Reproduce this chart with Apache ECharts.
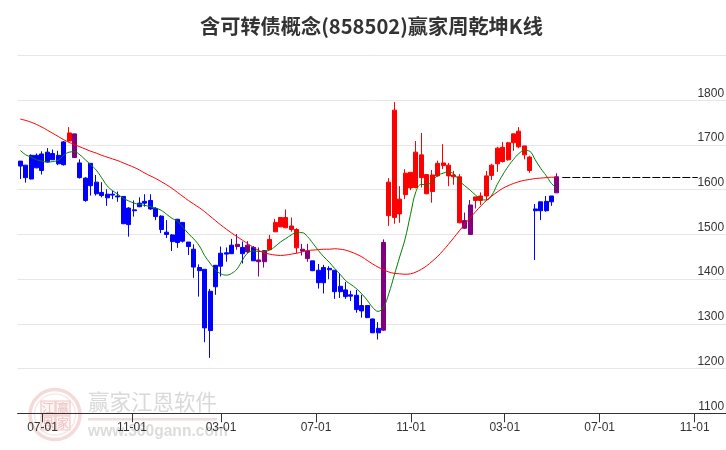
<!DOCTYPE html>
<html><head><meta charset="utf-8">
<style>html,body{margin:0;padding:0;background:#fff}#c{width:726px;height:450px}</style>
<script src="https://cdn.jsdelivr.net/npm/echarts@6/dist/echarts.min.js"></script>
</head><body><div id="c"></div>
<script>
const titleText='含可转债概念(858502)赢家周乾坤K线';
const tickPositions=[4.09,20.61,37.03,54.56,72.09,89.38,106.9,124.43];
const tickLabels=['07-01','11-01','03-01','07-01','11-01','03-01','07-01','11-01'];
const kinds='bbbbbbbbbrpbbbbbbbbbbbbbbbbbbbbbbbbbbbbbpbpbpprrrrrrppbbbbbbbbbbbbbprrrrrrrrrrrrrrpprrrrrrrrrrrbbbbp'.split('');
const bodyHighs=[1664,1655,1677,1677,1680,1684,1681,1677,1707,1727,1725,1660,1626,1659,1617,1594,1590,1590,1586,1585,1559,1555,1570,1574,1576,1558,1541,1505,1499,1534,1527,1483,1467,1426,1422,1373,1431,1458,1459,1476,1478,1471,1476,1471,1443,1464,1489,1527,1538,1538,1519,1511,1467,1463,1441,1420,1426,1424,1420,1384,1376,1365,1364,1341,1341,1311,1290,1482,1617,1778,1579,1637,1639,1684,1678,1634,1633,1659,1660,1655,1633,1629,1531,1566,1584,1586,1631,1655,1693,1695,1705,1725,1731,1698,1673,1557,1573,1574,1586,1629];
const bodyLows=[1653,1627,1624,1649,1643,1662,1667,1658,1656,1709,1672,1627,1576,1609,1591,1587,1582,1588,1584,1524,1522,1553,1562,1570,1557,1540,1511,1500,1484,1482,1485,1473,1427,1419,1291,1285,1383,1429,1456,1457,1473,1457,1461,1441,1439,1439,1466,1506,1517,1515,1511,1470,1463,1446,1419,1392,1392,1421,1372,1372,1361,1362,1332,1329,1314,1280,1280,1286,1542,1538,1546,1589,1604,1605,1627,1591,1596,1631,1654,1631,1629,1526,1514,1500,1576,1576,1586,1632,1658,1663,1667,1705,1696,1678,1643,1553,1553,1553,1573,1593];
const lows=[1624,1616,1623,1648,1634,1661,1667,1655,1654,1708,1672,1625,1573,1587,1587,1583,1564,1579,1573,1523,1495,1540,1561,1562,1555,1532,1503,1492,1463,1470,1482,1454,1403,1361,1259,1224,1365,1406,1439,1456,1466,1435,1458,1441,1406,1426,1465,1505,1517,1514,1506,1458,1453,1439,1418,1379,1368,1400,1356,1358,1356,1351,1325,1314,1313,1280,1265,1284,1519,1524,1526,1579,1599,1603,1605,1590,1571,1629,1646,1608,1611,1525,1512,1499,1558,1566,1576,1622,1640,1661,1665,1687,1693,1668,1638,1443,1532,1551,1564,1593];
const highs=[1664,1655,1679,1681,1686,1693,1690,1687,1709,1740,1725,1668,1628,1659,1633,1617,1601,1598,1596,1586,1561,1576,1583,1590,1590,1561,1543,1532,1501,1534,1527,1483,1478,1433,1422,1378,1431,1473,1471,1490,1501,1484,1485,1474,1471,1465,1499,1535,1538,1556,1538,1514,1479,1479,1441,1434,1432,1429,1420,1412,1394,1374,1376,1365,1342,1312,1304,1489,1626,1796,1608,1646,1639,1709,1727,1634,1644,1665,1702,1660,1642,1635,1549,1577,1584,1594,1642,1658,1696,1707,1707,1725,1740,1698,1676,1568,1573,1586,1586,1637];
const greenLine=[1688,1678,1673,1667,1664,1662,1663,1666,1677,1684,1685,1678,1667,1656,1644,1627,1609,1598,1590,1581,1575,1570,1567,1565,1562,1559,1554,1545,1536,1529,1516,1502,1490,1475,1453,1436,1421,1412,1409,1413,1423,1443,1459,1463,1462,1462,1465,1473,1483,1491,1499,1504,1504,1495,1480,1464,1450,1438,1424,1411,1397,1388,1379,1367,1353,1337,1328,1337,1368,1409,1450,1490,1545,1596,1612,1611,1620,1632,1637,1640,1635,1620,1609,1599,1588,1579,1577,1588,1612,1633,1652,1668,1681,1688,1686,1667,1648,1632,1614,1603];
const redLine=[1758,1755,1751,1746,1740,1733,1726,1719,1712,1706,1701,1696,1691,1686,1682,1677,1673,1669,1665,1660,1655,1650,1644,1637,1631,1625,1618,1611,1603,1594,1585,1576,1568,1560,1551,1541,1531,1521,1512,1503,1495,1487,1479,1471,1464,1459,1456,1454,1453,1454,1456,1458,1461,1464,1465,1466,1467,1467,1468,1467,1465,1461,1456,1450,1442,1434,1427,1421,1416,1413,1412,1411,1412,1416,1422,1430,1440,1451,1464,1478,1493,1508,1523,1537,1551,1564,1576,1586,1595,1603,1609,1614,1618,1621,1623,1625,1626,1627,1628,1628];
const lastPrice=1628;
const categoryCount=131;
const lastDashEnd=125;

const categories=[];for(let i=0;i<categoryCount;i++)categories.push(String(i+1));
const colorOf={b:'#0000ff',r:'#ff0000',p:'#800080'};
const candles=kinds.map((k,i)=>{const c=colorOf[k];
  return {value:k==='r'?[bodyLows[i],bodyHighs[i],lows[i],highs[i]]:[bodyHighs[i],bodyLows[i],lows[i],highs[i]],
    itemStyle:{color:c,color0:c,borderColor:c,borderColor0:c,borderWidth:1}};});

const seal=[['江',-7.5,-7.5],['赢',7.5,-7.5],['恩',-7.5,7.5],['家',7.5,7.5]];
const graphicEls=[
 {type:'circle',shape:{cx:55,cy:414.6,r:25},style:{fill:'none',stroke:'#f5dada',lineWidth:3.5},z:-5},
 {type:'circle',shape:{cx:55,cy:414.6,r:20.5},style:{fill:'none',stroke:'#fae8e8',lineWidth:1.5},z:-5},
 ...seal.map(s=>({type:'rect',shape:{x:55.5+s[1]-7,y:415.5+s[2]-7,width:14,height:14},style:{fill:'#fdf4f4',stroke:'#f0c8c8',lineWidth:1.2},z:-5})),
 ...seal.map(s=>({type:'text',style:{x:55.5+s[1],y:415.5+s[2],text:s[0],fill:'#eec0c0',font:'12px "Noto Sans CJK SC"',textAlign:'center',textVerticalAlign:'middle'},z:-4})),
 {type:'text',style:{x:88,y:402,text:'赢家江恩软件',fill:'#d9d9d9',font:'21.5px "Noto Sans CJK SC"',textVerticalAlign:'middle'},z:-5},
 {type:'rect',shape:{x:88,y:418,width:129,height:2.5},style:{fill:'#f0dcdc'},z:-5},
 {type:'text',style:{x:88,y:432,text:'www.360gann.com',fill:'#dcdcdc',font:'bold 15.6px "Liberation Sans"',textVerticalAlign:'middle'},z:-5}
];

const chart=echarts.init(document.getElementById('c'),null,{renderer:'canvas'});
chart.setOption({
 animation:false,backgroundColor:'#fff',
 title:{text:titleText,left:195,top:11.5,textStyle:{fontFamily:'"Noto Sans CJK SC"',fontSize:20.2,fontWeight:'bold',color:'#333'}},
 graphic:{elements:graphicEls},
 grid:{left:17.6,top:55.6,width:710,height:357.7,containLabel:false,outerBoundsMode:'none'},
 xAxis:[
  {type:'category',data:categories,show:false,boundaryGap:true},
  {type:'value',position:'bottom',min:-0.5,max:categoryCount-0.5,splitLine:{show:false},
   axisLine:{show:true,onZero:false,lineStyle:{color:'#333',width:1}},
   axisTick:{show:true,length:9,customValues:tickPositions,lineStyle:{color:'#333'}},
   axisLabel:{show:true,customValues:tickPositions,margin:8,color:'#333',fontSize:12,fontFamily:'"Liberation Sans"',
     hideOverlap:false,formatter:v=>{const i=tickPositions.indexOf(v);return i>=0?tickLabels[i]:'';}}}
 ],
 yAxis:{type:'value',position:'right',min:1100,max:1900,interval:100,
  axisLine:{show:false},axisTick:{show:false},
  splitLine:{show:true,lineStyle:{color:'#e6e6e6',width:1}},
  axisLabel:{inside:true,showMaxLabel:false,margin:3.5,color:'#333',fontSize:12,fontFamily:'"Liberation Sans"',verticalAlign:'bottom',align:'right',lineHeight:14,formatter:v=>String(v)}},
 series:[
  {type:'candlestick',xAxisIndex:0,barWidth:4.5,data:candles,z:2,
   markLine:{silent:true,symbol:'none',label:{show:false},lineStyle:{color:'#000',type:[8,2],width:1},
     data:[[{xAxis:100,yAxis:lastPrice},{xAxis:lastDashEnd,yAxis:lastPrice}]]}},
  {type:'line',name:'green',xAxisIndex:0,data:greenLine,smooth:0.4,showSymbol:false,lineStyle:{color:'#008000',width:1},z:3},
  {type:'line',name:'red',xAxisIndex:0,data:redLine,smooth:0.4,showSymbol:false,lineStyle:{color:'#ff0000',width:1},z:3}
 ]
});
</script></body></html>
